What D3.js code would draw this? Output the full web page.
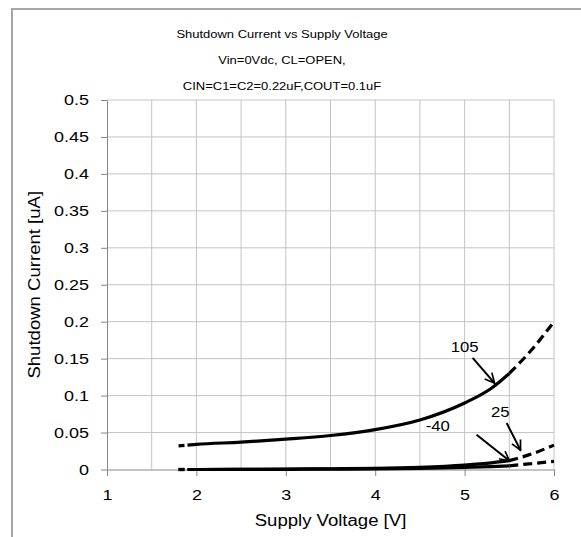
<!DOCTYPE html>
<html>
<head>
<meta charset="utf-8">
<script src="https://cdn.jsdelivr.net/npm/d3@7"></script>
<style>
  body { margin: 0; background: #fff; }
  svg { display: block; font-family: "Liberation Sans", Arial, sans-serif; }
  .grid line { stroke: #c4c4c4; stroke-width: 1; }
  .axis path, .axis line { stroke: #878787; }
  .axis text { font-size: 15.5px; fill: #000; }
</style>
</head>
<body>
<div id="chart"></div>
<script>
var titleLines = ["Shutdown Current vs Supply Voltage", "Vin=0Vdc, CL=OPEN,", "CIN=C1=C2=0.22uF,COUT=0.1uF"];
var xTicks = [1, 2, 3, 4, 5, 6];
var yTicks = [0, 0.05, 0.1, 0.15, 0.2, 0.25, 0.3, 0.35, 0.4, 0.45, 0.5];

// measured (solid) part of each curve
var volts = [1.9, 2, 2.5, 3, 3.5, 4, 4.5, 5, 5.3, 5.5];
var i105 = [0.033, 0.034, 0.037, 0.041, 0.046, 0.054, 0.067, 0.09, 0.11, 0.13];
var i25 = [0, 0, 0.0002, 0.0005, 0.001, 0.0015, 0.003, 0.006, 0.009, 0.012];
var iM40 = [0, 0, 0.0001, 0.0003, 0.0005, 0.0008, 0.0015, 0.003, 0.004, 0.005];

// dashed extensions
var voltsHigh = [5.5, 5.75, 6];
var i105High = [0.13, 0.162, 0.2];
var i25High = [0.012, 0.021, 0.033];
var iM40High = [0.005, 0.008, 0.011];
var voltsLow = [1.8, 1.9];
var i105Low = [0.032, 0.033];
var i25Low = [0, 0];
var iM40Low = [0, 0];

// annotations: label position, arrow start, arrow end (data units)
var labels = [
  {text: "105", x: 5.0, y: 0.167, x1: 5.09, y1: 0.151, x2: 5.335, y2: 0.117},
  {text: "25", x: 5.4, y: 0.079, x1: 5.47, y1: 0.063, x2: 5.626, y2: 0.026},
  {text: "-40", x: 4.7, y: 0.059, x1: 5.134, y1: 0.047, x2: 5.503, y2: 0.0115}
];

var width = 581, height = 537;
var margin = {left: 107, right: 27, top: 100, bottom: 67.5};
var stretch = 1.16; // text in the original is drawn a little wide

var svg = d3.select("#chart").append("svg")
    .attr("width", width)
    .attr("height", height);

svg.append("defs").append("marker")
    .attr("id", "arrow")
    .attr("viewBox", "0 0 10 10")
    .attr("refX", 9).attr("refY", 5)
    .attr("markerWidth", 6).attr("markerHeight", 6)
    .attr("markerUnits", "strokeWidth")
    .attr("orient", "auto")
    .append("path")
    .attr("d", "M1,1 L9,5 L1,9")
    .style("fill", "none")
    .style("stroke", "#000")
    .style("stroke-width", 1.4);

// outer frame
svg.append("rect")
    .attr("x", 12).attr("y", 9)
    .attr("width", width + 20).attr("height", height + 20)
    .style("fill", "none")
    .style("stroke", "#a6a6a6")
    .style("stroke-width", 2);

var x = d3.scaleLinear().domain([1, 6]).range([margin.left, width - margin.right]);
var y = d3.scaleLinear().domain([0, 0.5]).range([height - margin.bottom, margin.top]);

function widen(sel) {
    sel.each(function () {
        var t = d3.select(this);
        t.attr("x", (+t.attr("x") || 0) / stretch)
            .attr("transform", "scale(" + stretch + ",1)");
    });
}

// grid
var grid = svg.append("g").attr("class", "grid");
grid.selectAll(".v").data(d3.range(1.5, 6.01, 0.5))
    .enter().append("line")
    .attr("x1", function (d) { return x(d); })
    .attr("x2", function (d) { return x(d); })
    .attr("y1", y(0)).attr("y2", y(0.5));
grid.selectAll(".h").data(yTicks.slice(1))
    .enter().append("line")
    .attr("x1", x(1)).attr("x2", x(6))
    .attr("y1", function (d) { return y(d); })
    .attr("y2", function (d) { return y(d); });

var xAxis = svg.append("g")
    .attr("class", "axis")
    .attr("transform", "translate(0," + y(0) + ")")
    .call(d3.axisBottom(x).tickValues(xTicks).tickSize(6.5).tickPadding(13.5).tickSizeOuter(0).tickFormat(d3.format("d")));
widen(xAxis.selectAll("text"));

var yAxis = svg.append("g")
    .attr("class", "axis")
    .attr("transform", "translate(" + x(1) + ",0)")
    .call(d3.axisLeft(y).tickValues(yTicks).tickSize(6).tickPadding(12).tickSizeOuter(0).tickFormat(function (d) { return d3.format("")(+d.toFixed(2)); }));
widen(yAxis.selectAll("text"));

// title
svg.append("g").selectAll("text").data(titleLines)
    .enter().append("text")
    .attr("transform", function (d, i) { return "translate(282," + (37.5 + i * 26) + ") scale(" + stretch + ",1)"; })
    .attr("text-anchor", "middle")
    .style("font-size", "11.2px")
    .text(function (d) { return d; });

svg.append("text")
    .attr("transform", "translate(" + ((x(1) + x(6)) / 2) + ",526) scale(" + stretch + ",1)")
    .attr("text-anchor", "middle")
    .style("font-size", "16px")
    .text("Supply Voltage [V]");

svg.append("text")
    .attr("transform", "translate(40," + ((y(0) + y(0.5)) / 2) + ") rotate(-90) scale(" + stretch + ",1)")
    .attr("text-anchor", "middle")
    .style("font-size", "16px")
    .text("Shutdown Current [uA]");

var line = d3.line()
    .curve(d3.curveMonotoneX)
    .x(function (d) { return x(d[0]); })
    .y(function (d) { return y(d[1]); });

function pairs(xs, ys) {
    return xs.map(function (v, i) { return [v, ys[i]]; });
}

var series = [
    {values: pairs(volts, iM40), dash: null},
    {values: pairs(volts, i25), dash: null},
    {values: pairs(volts, i105), dash: null},
    {values: pairs(voltsHigh, iM40High), dash: "9,5"},
    {values: pairs(voltsHigh, i25High), dash: "9,5"},
    {values: pairs(voltsHigh, i105High), dash: "9,5"},
    {values: pairs(voltsLow, iM40Low), dash: "6,3"},
    {values: pairs(voltsLow, i25Low), dash: "6,3"},
    {values: pairs(voltsLow, i105Low), dash: "6,3"}
];

svg.append("g").selectAll("path").data(series)
    .enter().append("path")
    .attr("d", function (d) { return line(d.values); })
    .style("fill", "none")
    .style("stroke", "#000")
    .style("stroke-width", 3.2)
    .style("stroke-dasharray", function (d) { return d.dash; });

// annotations
var ann = svg.append("g");
ann.selectAll("line").data(labels)
    .enter().append("line")
    .attr("x1", function (d) { return x(d.x1); })
    .attr("y1", function (d) { return y(d.y1); })
    .attr("x2", function (d) { return x(d.x2); })
    .attr("y2", function (d) { return y(d.y2); })
    .style("stroke", "#000")
    .style("stroke-width", 2)
    .attr("marker-end", "url(#arrow)");
ann.selectAll("text").data(labels)
    .enter().append("text")
    .attr("transform", function (d) { return "translate(" + x(d.x) + "," + y(d.y) + ") scale(1.08,1)"; })
    .attr("dy", "0.35em")
    .attr("text-anchor", "middle")
    .style("font-size", "15.5px")
    .text(function (d) { return d.text; });
</script>
</body>
</html>
